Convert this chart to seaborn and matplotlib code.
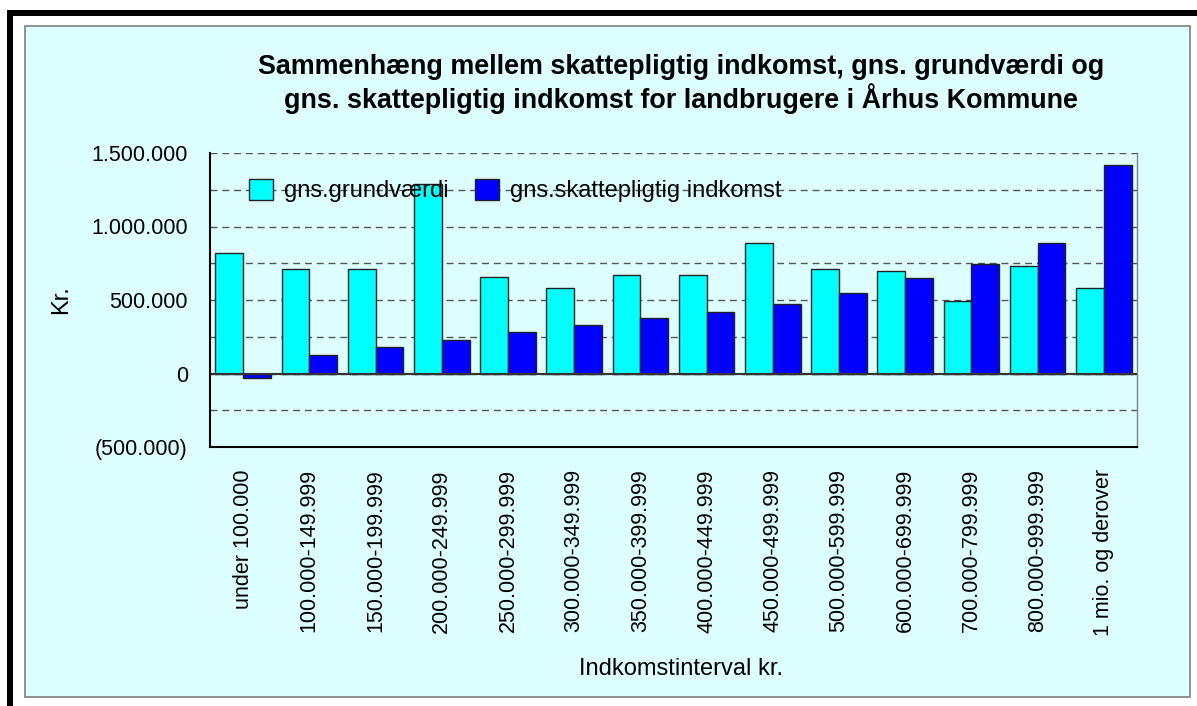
import pandas as pd
import matplotlib
matplotlib.use("Agg")
import matplotlib.pyplot as plt
import seaborn as sns
from matplotlib.patches import Rectangle
from matplotlib.ticker import FuncFormatter, MultipleLocator

# data
categories = ['under 100.000', '100.000-149.999', '150.000-199.999', '200.000-249.999',
              '250.000-299.999', '300.000-349.999', '350.000-399.999', '400.000-449.999',
              '450.000-499.999', '500.000-599.999', '600.000-699.999', '700.000-799.999',
              '800.000-999.999', '1 mio. og derover']
grundvaerdi = [820000, 708000, 708000, 1288000, 659000, 582000, 670000,
               670000, 885000, 708000, 695000, 496000, 733000, 582000]
skattepligtig = [-32000, 129000, 181000, 231000, 281000, 330000, 380000,
                 419000, 471000, 546000, 647000, 747000, 885000, 1417000]
series_names = ['gns.grundværdi', 'gns.skattepligtig indkomst']

df = pd.DataFrame({
    'Indkomstinterval': categories * 2,
    'Kr': grundvaerdi + skattepligtig,
    'Serie': [series_names[0]] * len(categories) + [series_names[1]] * len(categories),
})

sns.set_style('white')
plt.rcParams['font.family'] = ['Liberation Sans', 'DejaVu Sans']
plt.rcParams['text.color'] = 'black'
plt.rcParams['axes.labelcolor'] = 'black'
plt.rcParams['xtick.color'] = 'black'
plt.rcParams['ytick.color'] = 'black'

bg = '#DDFFFF'
fig = plt.figure(figsize=(11.97, 7.06), dpi=100, facecolor='white')

# frame: black shadow bars and the light cyan panel
fig.patches.append(Rectangle((7 / 1197, 0), 6 / 1197, 696 / 706, transform=fig.transFigure,
                             facecolor='black', edgecolor='none', zorder=-2))
fig.patches.append(Rectangle((7 / 1197, 690 / 706), 1190 / 1197, 6 / 706, transform=fig.transFigure,
                             facecolor='black', edgecolor='none', zorder=-2))
fig.patches.append(Rectangle((25 / 1197, 9 / 706), 1165 / 1197, 671 / 706, transform=fig.transFigure,
                             facecolor=bg, edgecolor='#7f7f7f', linewidth=1.2, zorder=-1))

ax = fig.add_axes([210 / 1197, 259 / 706, 927 / 1197, 294 / 706])
ax.set_zorder(1)
ax.set_facecolor(bg)

sns.barplot(data=df, x='Indkomstinterval', y='Kr', hue='Serie', ax=ax,
            palette=['#00FFFF', '#0000FF'], width=0.84, gap=0,
            edgecolor='#222222', linewidth=1.0, saturation=1)

ax.set_ylim(-500000, 1500000)
ax.yaxis.set_major_locator(MultipleLocator(500000))
ax.yaxis.set_minor_locator(MultipleLocator(250000))


def fmt(v, pos):
    s = f"{abs(int(round(v))):,}".replace(',', '.')
    return f"({s})" if v < 0 else s


ax.yaxis.set_major_formatter(FuncFormatter(fmt))
ax.set_axisbelow(True)
ax.grid(True, which='both', axis='y', color='#555555', linewidth=1.0, linestyle=(0, (5, 3.5)))
ax.grid(False, axis='x')
ax.axhline(0, color='#333333', linewidth=1.5, zorder=1.5)

ax.tick_params(axis='y', which='both', length=0, pad=16, labelsize=15.5)
ax.tick_params(axis='x', length=0, pad=16, labelsize=15.5, rotation=90)

for side in ['left', 'bottom']:
    ax.spines[side].set_color('black')
    ax.spines[side].set_linewidth(1.5)
ax.spines['top'].set_visible(False)
ax.spines['right'].set_color('#808080')
ax.spines['right'].set_linewidth(1.0)

ax.set_ylabel('Kr.', fontsize=17, labelpad=14)
ax.set_xlabel('Indkomstinterval kr.', fontsize=17)
ax.xaxis.set_label_coords(0.5086, -0.718)

handles, labels = ax.get_legend_handles_labels()
ax.legend(handles, labels, loc='center left', bbox_to_anchor=(0.042, 0.872),
          ncol=2, frameon=False, fontsize=17, handlelength=1.0, handleheight=1.0,
          handletextpad=0.5, columnspacing=1.1, borderpad=0, borderaxespad=0)

fig.text(681 / 1197, 1 - 84 / 706,
         'Sammenhæng mellem skattepligtig indkomst, gns. grundværdi og\n'
         'gns. skattepligtig indkomst for landbrugere i Århus Kommune',
         ha='center', va='center', fontsize=19.4, fontweight='bold', linespacing=1.15)

fig.savefig('out.png', dpi=100, facecolor='white')
